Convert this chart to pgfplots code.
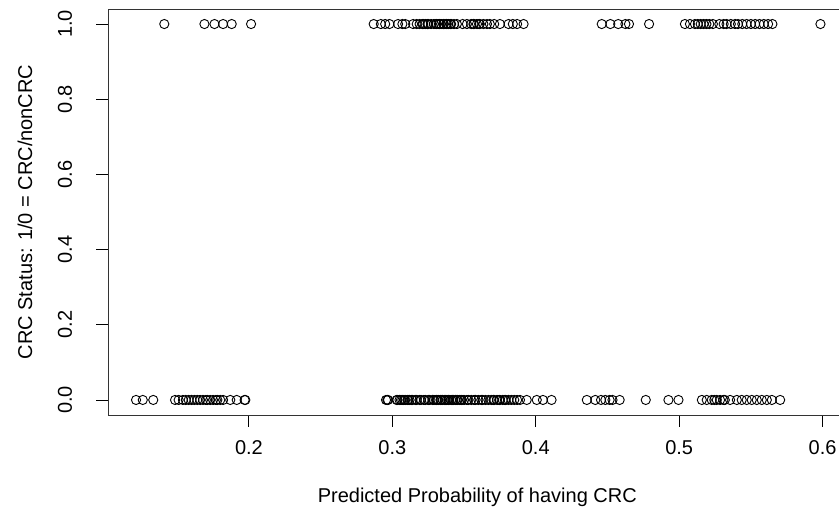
\documentclass[border=0pt]{standalone}
\usepackage{pgfplots}
\pgfplotsset{compat=1.18}
\usepackage{fontspec}
\setmainfont{Liberation Sans}

% Fitted probabilities for the CRC cases (status 1)
\newcommand{\casepts}{
(0.141,1) (0.169,1) (0.176,1) (0.182,1) (0.188,1) (0.2015,1)
(0.287,1) (0.292,1) (0.295,1) (0.298,1) (0.304,1) (0.307,1) (0.309,1)
(0.3145,1) (0.317,1) (0.319,1) (0.321,1) (0.3215,1) (0.323,1) (0.3245,1)
(0.325,1) (0.327,1) (0.329,1) (0.3305,1) (0.331,1) (0.3325,1) (0.333,1)
(0.334,1) (0.3355,1) (0.336,1) (0.3375,1) (0.338,1) (0.339,1) (0.3405,1)
(0.341,1) (0.343,1) (0.345,1) (0.349,1) (0.352,1) (0.355,1) (0.3565,1)
(0.357,1) (0.359,1) (0.3605,1) (0.361,1) (0.3635,1) (0.366,1) (0.368,1)
(0.371,1) (0.375,1) (0.381,1) (0.384,1) (0.387,1) (0.3915,1)
(0.446,1) (0.452,1) (0.4575,1) (0.4625,1) (0.465,1) (0.479,1)
(0.504,1) (0.5075,1) (0.511,1) (0.513,1) (0.515,1) (0.517,1) (0.519,1)
(0.521,1) (0.5235,1) (0.528,1) (0.531,1) (0.533,1) (0.536,1) (0.539,1)
(0.541,1) (0.544,1) (0.547,1) (0.550,1) (0.553,1) (0.556,1) (0.559,1)
(0.562,1) (0.565,1) (0.5985,1)
}
% Fitted probabilities for the non-CRC controls (status 0)
\newcommand{\controlpts}{
(0.1213,0) (0.126,0) (0.1333,0) (0.1485,0) (0.151,0) (0.154,0) (0.156,0)
(0.158,0) (0.160,0) (0.162,0) (0.164,0) (0.166,0) (0.168,0) (0.170,0)
(0.171,0) (0.173,0) (0.175,0) (0.177,0) (0.178,0) (0.180,0) (0.182,0)
(0.187,0) (0.1915,0) (0.197,0) (0.1975,0)
(0.2956,0) (0.2965,0) (0.297,0) (0.303,0) (0.3035,0) (0.305,0) (0.306,0)
(0.307,0) (0.308,0) (0.309,0) (0.3105,0) (0.311,0) (0.312,0) (0.3135,0)
(0.314,0) (0.316,0) (0.317,0) (0.319,0)
(0.320,0) (0.322,0) (0.323,0) (0.325,0) (0.326,0) (0.328,0) (0.329,0)
(0.3305,0) (0.331,0) (0.332,0) (0.3335,0) (0.334,0) (0.335,0) (0.3365,0)
(0.337,0) (0.338,0) (0.339,0) (0.3395,0) (0.341,0) (0.342,0) (0.3425,0)
(0.344,0) (0.345,0) (0.3455,0) (0.347,0) (0.348,0) (0.3485,0) (0.350,0)
(0.352,0) (0.353,0) (0.355,0) (0.357,0) (0.358,0) (0.360,0) (0.362,0)
(0.363,0) (0.365,0) (0.367,0) (0.369,0) (0.3705,0) (0.371,0) (0.373,0)
(0.3745,0) (0.375,0) (0.377,0) (0.3785,0) (0.379,0) (0.381,0) (0.383,0)
(0.385,0) (0.387,0) (0.389,0)
(0.3937,0) (0.4007,0) (0.405,0) (0.411,0)
(0.4356,0) (0.4415,0) (0.4455,0) (0.4485,0) (0.4515,0) (0.4535,0)
(0.4585,0) (0.4767,0) (0.4925,0) (0.4995,0)
(0.5158,0) (0.5192,0) (0.5227,0) (0.5245,0) (0.5262,0) (0.5285,0)
(0.5308,0) (0.5318,0) (0.5355,0) (0.5402,0) (0.5436,0) (0.5471,0)
(0.5506,0) (0.5541,0) (0.5576,0) (0.5611,0) (0.5646,0) (0.5704,0)
}

\begin{document}
\begin{tikzpicture}
\begin{axis}[
  at={(108.5pt,107pt)}, anchor=south west,
  scale only axis,
  width=742.8pt, height=406pt,
  xmin=0.1021, xmax=0.62,
  ymin=-0.04, ymax=1.04,
  axis line style={line width=0.9pt, black!80},
  xtick={0.2,0.3,0.4,0.5,0.6},
  ytick={0,0.2,0.4,0.6,0.8,1},
  tick align=outside,
  tick pos=left,
  major tick length=12pt,
  every tick/.style={line width=0.9pt, black},
  /pgf/number format/.cd, fixed, fixed zerofill, precision=1, assume math mode=true,
  /pgfplots/.cd,
  tick label style={font=\fontsize{20}{24}\selectfont},
  xticklabel style={anchor=center, yshift=-21pt},
  yticklabel style={xshift=-31.5pt, rotate=90, anchor=center},
  label style={font=\fontsize{20}{24}\selectfont},
  xlabel={Predicted Probability of having CRC},
  ylabel={CRC Status: 1/0 = CRC/nonCRC},
  xlabel style={at={(axis description cs:0.4965,-0.202)}, anchor=center},
  ylabel style={at={(axis description cs:-0.1124,0.5)}, rotate=0, anchor=center},
  clip=false,
]
\addplot[only marks, mark=o, mark size=4.6pt, mark options={line width=0.9pt, black}]
  coordinates {\casepts};
\addplot[only marks, mark=o, mark size=4.6pt, mark options={line width=0.9pt, black}]
  coordinates {\controlpts};
\end{axis}
\pgfresetboundingbox
\path[use as bounding box] (0,0) rectangle (839pt,522pt);
\end{tikzpicture}
\end{document}
